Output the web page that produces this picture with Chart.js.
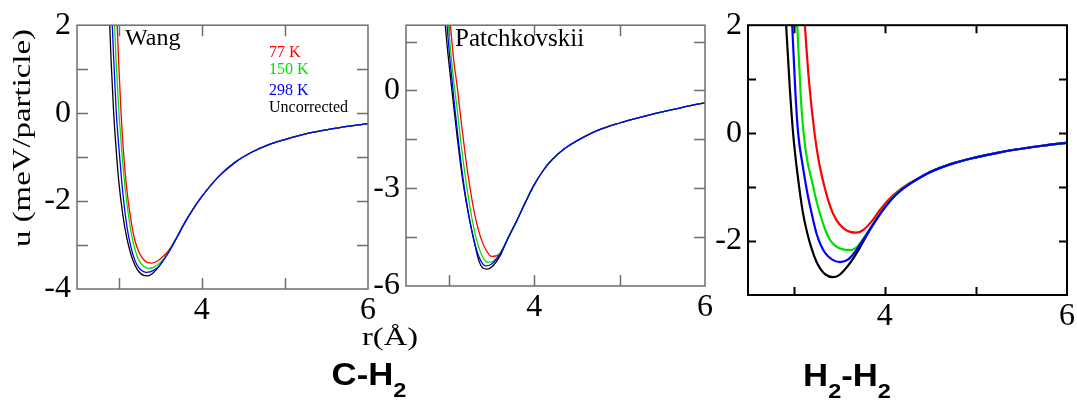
<!DOCTYPE html>
<html><head><meta charset="utf-8">
<script src="https://cdn.jsdelivr.net/npm/chart.js@4.4.1/dist/chart.umd.min.js"></script>
<style>
html,body{margin:0;padding:0;background:#fff;}
#wrap{position:relative;width:1077px;height:400px;background:#fff;}
canvas{position:absolute;left:0;top:0;}
</style></head><body>
<div id="wrap">
<canvas id="c1" width="1077" height="400"></canvas>
<canvas id="c2" width="1077" height="400"></canvas>
<canvas id="c3" width="1077" height="400"></canvas>
</div>
<script>
// ---------- data: [r (Å), u (meV/particle)] ----------
// Wang (C-H2)
const wang77K = [[2.96,3.2],[2.98,2.2],[3.00,1.2],[3.03,0.0],[3.06,-0.9],[3.10,-1.75],[3.15,-2.45],[3.20,-2.92],[3.25,-3.18],[3.30,-3.33],[3.35,-3.40],[3.40,-3.41],[3.45,-3.38],[3.50,-3.32],[3.60,-3.13]];
const wang150K = [[2.93,3.0],[2.95,2.1],[2.97,1.2],[3.00,0.15],[3.03,-0.65],[3.06,-1.35],[3.10,-2.05],[3.15,-2.7],[3.20,-3.12],[3.25,-3.36],[3.30,-3.48],[3.36,-3.53],[3.42,-3.51],[3.50,-3.40],[3.60,-3.16]];
const wang298K = [[2.90,3.1],[2.92,2.2],[2.94,1.3],[2.97,0.1],[3.00,-0.7],[3.04,-1.6],[3.08,-2.3],[3.12,-2.8],[3.17,-3.2],[3.22,-3.45],[3.27,-3.57],[3.33,-3.62],[3.38,-3.61],[3.45,-3.54],[3.50,-3.45],[3.60,-3.17]];
const wangUncorr = [[2.87,3.2],[2.89,2.2],[2.91,1.2],[2.94,0.05],[2.97,-0.8],[3.00,-1.5],[3.05,-2.3],[3.10,-2.85],[3.15,-3.22],[3.20,-3.47],[3.25,-3.62],[3.30,-3.69],[3.35,-3.70],[3.40,-3.66],[3.50,-3.45],[3.60,-3.17]];
const wangTail = [[3.70,-2.83],[3.80,-2.48],[3.90,-2.17],[4.00,-1.90],[4.20,-1.45],[4.40,-1.12],[4.60,-0.89],[4.80,-0.72],[5.00,-0.60],[5.25,-0.47],[5.50,-0.38],[5.75,-0.30],[6.00,-0.24]];
// Patchkovskii (C-H2)
const patch77K = [[2.99,3.2],[3.02,2.0],[3.06,0.9],[3.10,0.1],[3.15,-1.05],[3.20,-2.1],[3.25,-3.0],[3.30,-3.75],[3.35,-4.3],[3.40,-4.7],[3.45,-4.95],[3.50,-5.09],[3.55,-5.08],[3.62,-4.92]];
const patch150K = [[2.97,3.1],[3.00,1.9],[3.05,0.5],[3.10,-0.6],[3.15,-1.75],[3.20,-2.75],[3.25,-3.6],[3.30,-4.3],[3.35,-4.8],[3.40,-5.12],[3.46,-5.27],[3.52,-5.24],[3.60,-5.0]];
const patch298K = [[2.95,3.1],[2.98,2.0],[3.02,0.8],[3.07,-0.5],[3.12,-1.7],[3.17,-2.75],[3.22,-3.6],[3.27,-4.3],[3.32,-4.85],[3.37,-5.2],[3.43,-5.38],[3.50,-5.33],[3.60,-5.03]];
const patchUncorr = [[2.93,3.2],[2.96,2.0],[3.00,0.9],[3.05,-0.3],[3.10,-1.45],[3.15,-2.5],[3.20,-3.35],[3.25,-4.05],[3.30,-4.65],[3.35,-5.2],[3.40,-5.45],[3.45,-5.48],[3.52,-5.38],[3.60,-5.08]];
const patchTail = [[3.70,-4.5],[3.80,-3.98],[3.90,-3.42],[4.00,-2.90],[4.10,-2.48],[4.20,-2.15],[4.35,-1.80],[4.50,-1.55],[4.75,-1.22],[5.00,-1.00],[5.25,-0.82],[5.50,-0.66],[5.75,-0.51],[6.00,-0.38]];
// H2-H2
const h2h277K = [[3.08,3.2],[3.124,2.0],[3.17,0.95],[3.23,0.0],[3.28,-0.55],[3.34,-1.0],[3.40,-1.35],[3.45,-1.55],[3.50,-1.68],[3.56,-1.78],[3.62,-1.83],[3.69,-1.845],[3.76,-1.8],[3.85,-1.65],[3.95,-1.42],[4.05,-1.22],[4.15,-1.07],[4.25,-0.95]];
const h2h2150K = [[3.00,3.2],[3.04,2.0],[3.08,0.65],[3.11,0.0],[3.15,-0.5],[3.20,-0.88],[3.25,-1.25],[3.30,-1.55],[3.35,-1.8],[3.40,-1.98],[3.46,-2.09],[3.53,-2.15],[3.62,-2.17],[3.70,-2.1],[3.80,-1.87],[3.90,-1.61],[4.00,-1.37],[4.10,-1.17],[4.20,-1.02]];
const h2h2298K = [[2.95,3.1],[2.985,2.0],[3.02,0.75],[3.05,0.0],[3.10,-0.6],[3.15,-1.1],[3.20,-1.5],[3.25,-1.85],[3.30,-2.08],[3.35,-2.23],[3.42,-2.34],[3.51,-2.39],[3.60,-2.34],[3.70,-2.14],[3.80,-1.88],[3.90,-1.62],[4.00,-1.38],[4.10,-1.18],[4.20,-1.03]];
const h2h2Uncorr = [[2.88,3.0],[2.92,1.95],[2.96,0.8],[3.00,-0.1],[3.05,-0.85],[3.10,-1.45],[3.15,-1.85],[3.20,-2.15],[3.25,-2.38],[3.30,-2.53],[3.35,-2.62],[3.43,-2.67],[3.50,-2.63],[3.60,-2.45],[3.70,-2.2],[3.80,-1.9],[3.90,-1.62],[4.00,-1.38],[4.10,-1.18],[4.20,-1.03]];
const h2h2Tail = [[4.35,-0.86],[4.50,-0.72],[4.75,-0.56],[5.00,-0.45],[5.25,-0.36],[5.50,-0.29],[5.75,-0.23],[6.00,-0.18]];

const seriesLabels = ['77 K', '150 K', '298 K', 'Uncorrected'];
const xTickLabels = [4, 6];
const wangYTickLabels = [-4, -2, 0, 2];
const patchYTickLabels = [-6, -3, 0];
const h2h2YTickLabels = [-2, 0, 2];

// ---------- styling ----------
const COLORS = ['#ff0000', '#00e000', '#0000ff', '#000000'];
const ORDER = [2, 1, 0, 3];
const SERIF = "'Liberation Serif', 'Times New Roman', serif";
const SANS = "'Liberation Sans', Arial, sans-serif";
const W = 1077, H = 400;

const frameTicks = {
  id: 'frameTicks',
  afterDatasetsDraw(chart, args, o) {
    const {ctx, chartArea: a} = chart;
    const xs = chart.scales.x, ys = chart.scales.y;
    ctx.save();
    ctx.strokeStyle = o.color; ctx.lineWidth = o.width;
    ctx.strokeRect(a.left, a.top, a.right - a.left, a.bottom - a.top);
    ctx.beginPath();
    xs.ticks.forEach(t => {
      if (t.value <= xs.min || t.value >= xs.max) return;
      const p = Math.round(xs.getPixelForValue(t.value)) + 0.5;
      ctx.moveTo(p, a.bottom); ctx.lineTo(p, a.bottom - o.len);
      ctx.moveTo(p, a.top); ctx.lineTo(p, a.top + o.len);
    });
    ys.ticks.forEach(t => {
      if (t.value <= ys.min || t.value >= ys.max) return;
      const p = Math.round(ys.getPixelForValue(t.value)) + 0.5;
      ctx.moveTo(a.left, p); ctx.lineTo(a.left + o.len, p);
      ctx.moveTo(a.right, p); ctx.lineTo(a.right - o.len, p);
    });
    ctx.stroke();
    ctx.restore();
  }
};

function drawItem(ctx, it) {
  ctx.save();
  let w = 0;
  it.parts.forEach(p => { ctx.font = p.font; p.w = ctx.measureText(p.t).width; w += p.w; });
  const sx = it.fitW ? it.fitW / w : (it.sx || 1);
  ctx.translate(it.x, it.y);
  if (it.rot) ctx.rotate(it.rot);
  ctx.scale(sx, 1);
  ctx.textBaseline = 'alphabetic';
  ctx.textAlign = 'left';
  let cx = it.align === 'left' ? 0 : -w / 2;
  it.parts.forEach(p => {
    ctx.font = p.font; ctx.fillStyle = p.color || it.color || '#000';
    ctx.fillText(p.t, cx, p.dy || 0);
    cx += p.w;
  });
  ctx.restore();
}

const texts = {
  id: 'texts',
  afterDraw(chart, args, o) {
    const ctx = chart.ctx;
    (o.items || []).forEach(it => drawItem(ctx, it));
    if (o.legend) {
      chart.data.datasets.forEach((d, i) => {
        drawItem(ctx, {parts: [{t: d.label, font: o.legend.font, color: d.borderColor === '#00e000' ? '#00dd00' : d.borderColor}],
          x: o.legend.x, y: o.legend.ys[i], align: 'left'});
      });
    }
  }
};

function buildChart(id, p) {
  const yW = 56, xH = 44;
  const tickFont = {family: SERIF, size: 32};
  return new Chart(document.getElementById(id), {
    type: 'line',
    data: {
      datasets: p.series.map((s, i) => ({
        label: seriesLabels[i],
        data: s.map(([x, y]) => ({x, y})),
        borderColor: COLORS[i], borderWidth: p.lw, pointRadius: 0,
        cubicInterpolationMode: 'monotone', fill: false, order: ORDER[i]
      }))
    },
    options: {
      responsive: false, animation: false, events: [],
      layout: {padding: {left: p.area.left - yW, right: W - p.area.right, top: p.area.top, bottom: H - p.area.bottom - xH}},
      scales: {
        x: {
          type: 'linear', min: 2.5, max: 6,
          afterFit(s) { s.height = xH; },
          grid: {display: false, drawTicks: false}, border: {display: false},
          ticks: {stepSize: 1, includeBounds: false, autoSkip: false, maxRotation: 0, minRotation: 0,
            padding: p.xPad, font: tickFont, color: '#000',
            callback: v => xTickLabels.includes(v) ? String(v) : ''}
        },
        y: {
          type: 'linear', min: p.yMin, max: p.yMax,
          afterFit(s) { s.width = yW; },
          grid: {display: false, drawTicks: false}, border: {display: false},
          ticks: {stepSize: p.yStep, includeBounds: false, autoSkip: false,
            padding: 6, font: tickFont, color: '#000',
            callback: v => p.yLabels.includes(v) ? String(v) : ''}
        }
      },
      plugins: {
        legend: {display: false}, tooltip: {enabled: false},
        frameTicks: {color: p.frameColor, width: p.frameW, len: p.tickLen},
        texts: p.texts
      }
    },
    plugins: [frameTicks, texts]
  });
}

buildChart('c1', {
  area: {left: 77, right: 368, top: 23, bottom: 289},
  yMin: -4, yMax: 2, yStep: 1, yLabels: wangYTickLabels, xPad: 2,
  series: [wang77K.concat(wangTail), wang150K.concat(wangTail), wang298K.concat(wangTail), wangUncorr.concat(wangTail)],
  lw: 1.3, frameColor: '#6e6e6e', frameW: 1.5, tickLen: 11,
  texts: {
    items: [
      {parts: [{t: 'Wang', font: '24px ' + SERIF}], x: 125, y: 45, align: 'left'},
      {parts: [{t: 'u (meV/particle)', font: '25px ' + SERIF}], x: 30, y: 138, rot: -Math.PI / 2, fitW: 218},
      {parts: [{t: 'r(Å)', font: '25px ' + SERIF}], x: 390, y: 345, fitW: 56},
      {parts: [{t: 'C-H', font: 'bold 31px ' + SANS}, {t: '2', font: 'bold 21px ' + SANS, dy: 12}], x: 369, y: 385, sx: 1.12}
    ],
    legend: {x: 269, ys: [57, 74, 95, 112], font: '16px ' + SERIF}
  }
});

buildChart('c2', {
  area: {left: 406, right: 705, top: 23, bottom: 286},
  yMin: -6, yMax: 2, yStep: 1.5, yLabels: patchYTickLabels, xPad: 2,
  series: [patch77K.concat(patchTail), patch150K.concat(patchTail), patch298K.concat(patchTail), patchUncorr.concat(patchTail)],
  lw: 1.3, frameColor: '#6e6e6e', frameW: 1.5, tickLen: 11,
  texts: {
    items: [
      {parts: [{t: 'Patchkovskii', font: '25px ' + SERIF}], x: 455, y: 46, align: 'left'}
    ]
  }
});

buildChart('c3', {
  area: {left: 748, right: 1068, top: 21, bottom: 295},
  yMin: -3, yMax: 2, yStep: 1, yLabels: h2h2YTickLabels, xPad: 2,
  series: [h2h277K.concat(h2h2Tail), h2h2150K.concat(h2h2Tail), h2h2298K.concat(h2h2Tail), h2h2Uncorr.concat(h2h2Tail)],
  lw: 2.2, frameColor: '#000', frameW: 2, tickLen: 8,
  texts: {
    items: [
      {parts: [{t: 'H', font: 'bold 31px ' + SANS}, {t: '2', font: 'bold 21px ' + SANS, dy: 12}, {t: '-H', font: 'bold 31px ' + SANS}, {t: '2', font: 'bold 21px ' + SANS, dy: 12}], x: 847, y: 386, sx: 1.12}
    ]
  }
});
</script>
</body></html>
